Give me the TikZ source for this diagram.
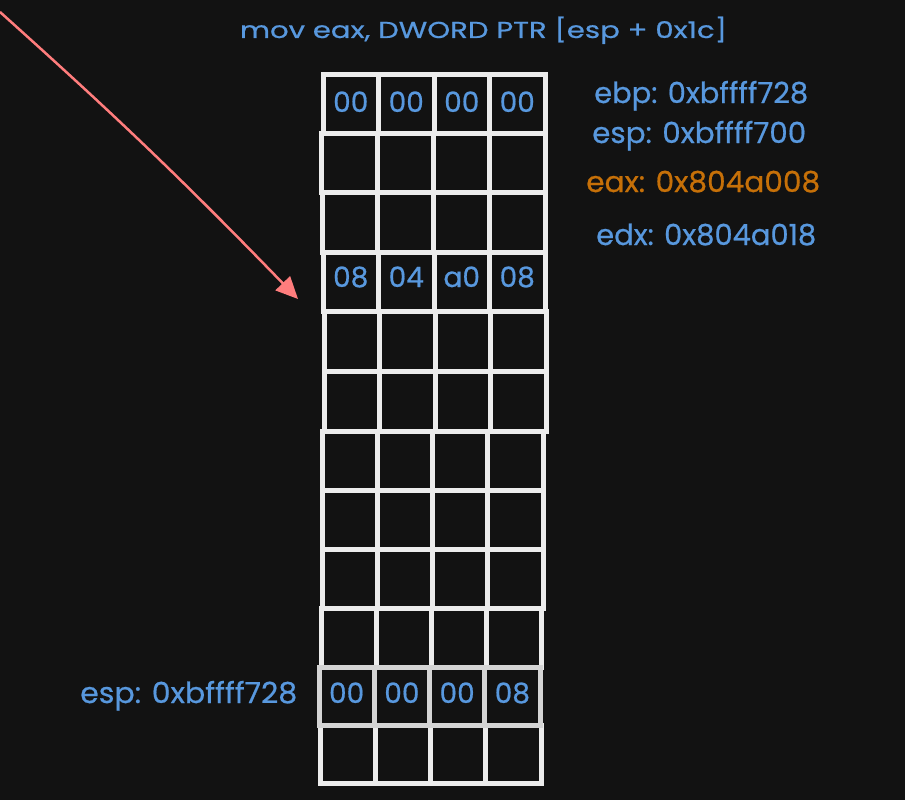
\documentclass[tikz,border=0pt]{standalone}
\usepackage{fontspec}
\setmainfont{Poppins}[FakeBold=0.6]
\usetikzlibrary{arrows.meta}
\definecolor{bgc}{RGB}{18,18,18}
\definecolor{txtblue}{RGB}{88,152,222}
\definecolor{txtorange}{RGB}{198,112,8}
\definecolor{gridc}{RGB}{236,236,236}
\definecolor{gridhl}{RGB}{212,212,212}
\definecolor{arrowred}{RGB}{255,125,125}
\newcommand{\fitw}[2]{\resizebox{#1}{\height}{#2}}
\begin{document}
\begin{tikzpicture}[x=1pt,y=-1pt,
  cell/.style={draw=gridc,line width=5pt,inner sep=0pt,outer sep=0pt},
  cellhl/.style={draw=gridhl,line width=5pt,inner sep=0pt,outer sep=0pt},
  celltext/.style={text=txtblue,font=\fontsize{28}{28}\selectfont,anchor=base,inner sep=0pt},
  label/.style={text=txtblue,font=\fontsize{29}{29}\selectfont,anchor=base west,inner sep=0pt},
  title/.style={text=txtblue,font=\fontsize{23}{23}\selectfont,anchor=base,inner sep=0pt},
  redarrow/.style={draw=arrowred,line width=2.5pt,-{Triangle[length=22pt,width=20pt]}}]
\fill[bgc] (0,0) rectangle (905,800);
\useasboundingbox (0,0) rectangle (905,800);
% grid of memory cells
\foreach \r/\yt/\yb/\xl/\xr in {1/75/133/323/545,2/133/192/321/545,3/192/252/322/545,4/252/311/323/545,5/311/371/324/546,6/371/431/324/546,7/431/490/322/543,8/490/549/322/543,9/549/608/322/543,10/608/667/321/541,12/725/783/320/541}{
  \foreach \c in {1,...,4}{
    \pgfmathsetmacro\w{(\xr-\xl)/4}
    \pgfmathsetmacro\cx{\xl+(\c-0.5)*\w}
    \pgfmathsetmacro\cy{(\yt+\yb)/2}
    \pgfmathsetmacro\h{\yb-\yt}
    \node[cell,minimum width=\w pt,minimum height=\h pt] (r\r c\c) at (\cx,\cy) {};
  }
}
\foreach \c in {1,...,4}{
  \pgfmathsetmacro\w{(540-319)/4}
  \pgfmathsetmacro\cx{319+(\c-0.5)*\w}
  \node[cellhl,minimum width=\w pt,minimum height=58pt] (r11c\c) at (\cx,696) {};
}
% cell contents
\node[celltext] (t1c1) at (r1c1 |- 0,112) {00};
\node[celltext] (t1c2) at (r1c2 |- 0,112) {00};
\node[celltext] (t1c3) at (r1c3 |- 0,112) {00};
\node[celltext] (t1c4) at (r1c4 |- 0,112) {00};
\node[celltext] (t4c1) at (r4c1 |- 0,287) {08};
\node[celltext] (t4c2) at (r4c2 |- 0,287) {04};
\node[celltext] (t4c3) at (r4c3 |- 0,287) {a0};
\node[celltext] (t4c4) at (r4c4 |- 0,287) {08};
\node[celltext] (t11c1) at (r11c1 |- 0,703) {00};
\node[celltext] (t11c2) at (r11c2 |- 0,703) {00};
\node[celltext] (t11c3) at (r11c3 |- 0,703) {00};
\node[celltext] (t11c4) at (r11c4 |- 0,703) {08};
% title and register labels
\node[title] (title) at (483.5,38) {\fitw{487pt}{mov eax, DWORD PTR [esp + 0x1c]}};
\node[label] (ebp) at (594,103) {\fitw{214pt}{ebp: 0xbffff728}};
\node[label] (esp) at (592,143) {\fitw{214pt}{esp: 0xbffff700}};
\node[label,text=txtorange] (eax) at (586,192) {\fitw{234pt}{eax: 0x804a008}};
\node[label] (edx) at (596,245) {\fitw{220pt}{edx: 0x804a018}};
\node[label] (espold) at (80,703) {\fitw{217pt}{esp: 0xbffff728}};
% arrow
\coordinate (arrowfrom) at (0,12);
\coordinate (arrowto) at (298,299);
\draw[redarrow] (arrowfrom) to[bend left=2] (arrowto);
\end{tikzpicture}
\end{document}
